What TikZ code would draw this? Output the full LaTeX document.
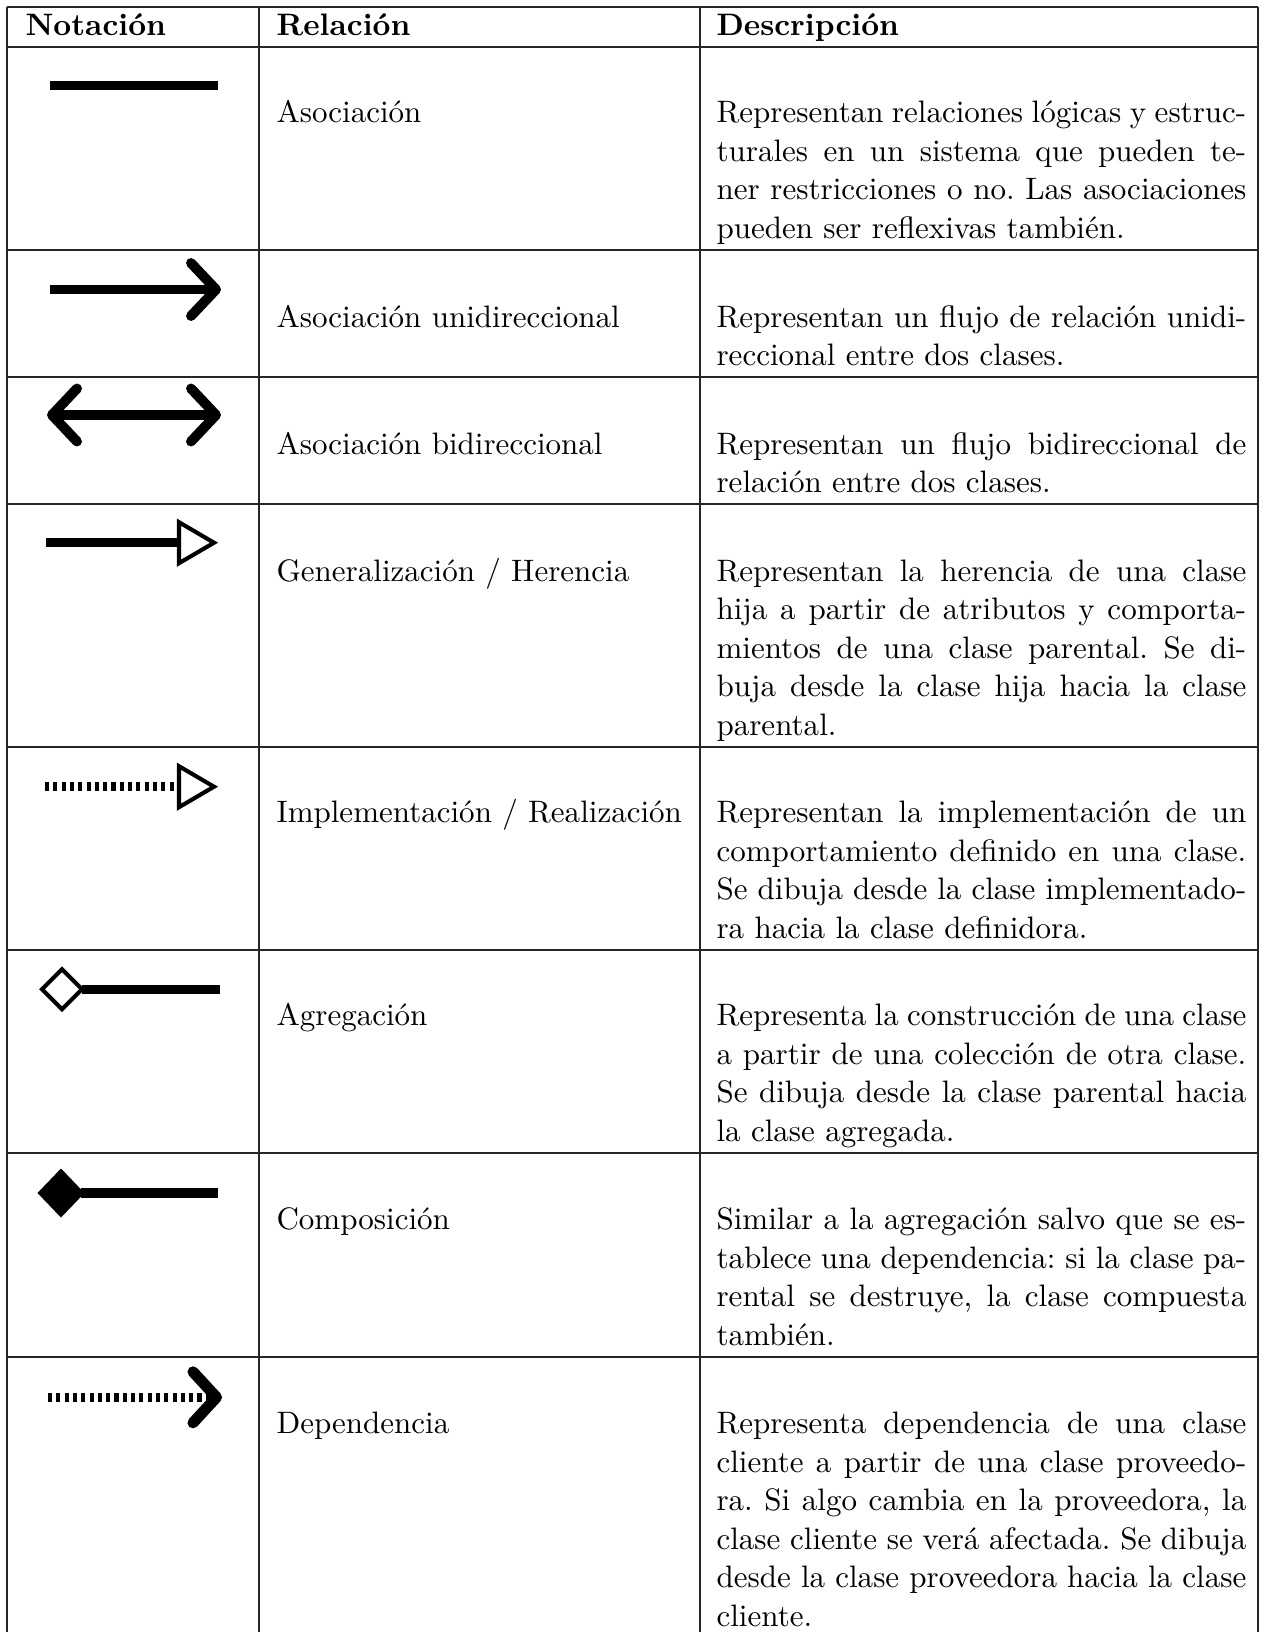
\documentclass[tikz,border=0pt]{standalone}
\usepackage{tikz}
\newlength{\descw}
\setlength{\descw}{187pt}
\newcommand{\fillline}[1]{\makebox[\linewidth][s]{#1}}
\newcommand{\desc}[1]{\parbox[t]{\descw}{#1}}
\tikzset{
  rule/.style={line width=0.4pt, black!85},
  txt/.style={anchor=base west, inner sep=0pt, font=\fontsize{10.95}{13.6}\selectfont\frenchspacing},
  headtxt/.style={txt, font=\fontsize{10.95}{13.6}\selectfont\bfseries},
  bar/.style={line width=3.2pt, line cap=butt},
  dotbar/.style={line width=3.2pt, line cap=butt, dash pattern=on 1.45pt off 1.48pt},
  vtip/.style={line width=3.5pt, line cap=round, line join=round},
  hollow/.style={line width=1.45pt, line join=miter, fill=white},
  solidtip/.style={fill=black, draw=none},
}
\begin{document}
\begin{tikzpicture}[x=0.353pt, y=-0.353pt]
  \useasboundingbox (0,0) rectangle (1262,1632);

  % table grid
  \foreach \yy in {7,47,250,377,504,747,950,1153,1357}
    \draw[rule] (7,\yy) -- (1258,\yy);
  \foreach \xx in {7,259,700,1258}
    \draw[rule] (\xx,7) -- (\xx,1632);

  % header
  \node[headtxt] (hnot) at (25,35) {Notación};
  \node[headtxt] (hrel) at (276,35) {Relación};
  \node[headtxt] (hdes) at (716,35) {Descripción};

  % relation names
  \node[txt] (r1) at (276,122.6) {Asociación};
  \node[txt] (r2) at (276,327) {Asociación unidireccional};
  \node[txt] (r3) at (276,454) {Asociación bidireccional};
  \node[txt] (r4) at (276,581) {Generalización / Herencia};
  \node[txt] (r5) at (276,822.6) {Implementación / Realización};
  \node[txt] (r6) at (276,1025.6) {Agregación};
  \node[txt] (r7) at (276,1229.6) {Composición};
  \node[txt] (r8) at (276,1433.5) {Dependencia};

  % descriptions
  \node[txt] (d1) at (716,122.6) {\desc{%
    \fillline{Representan relaciones lógicas y estruc-}\\
    \fillline{turales en un sistema que pueden te-}\\
    \fillline{ner restricciones o no. Las asociaciones}\\
    pueden ser reflexivas también.}};
  \node[txt] (d2) at (716,327) {\desc{%
    \fillline{Representan un flujo de relación unidi-}\\
    reccional entre dos clases.}};
  \node[txt] (d3) at (716,454) {\desc{%
    \fillline{Representan un flujo bidireccional de}\\
    relación entre dos clases.}};
  \node[txt] (d4) at (716,581) {\desc{%
    \fillline{Representan la herencia de una clase}\\
    \fillline{hija a partir de atributos y comporta-}\\
    \fillline{mientos de una clase parental. Se di-}\\
    \fillline{buja desde la clase hija hacia la clase}\\
    parental.}};
  \node[txt] (d5) at (716,822.6) {\desc{%
    \fillline{Representan la implementación de un}\\
    \fillline{comportamiento definido en una clase.}\\
    \fillline{Se dibuja desde la clase implementado-}\\
    ra hacia la clase definidora.}};
  \node[txt] (d6) at (716,1025.6) {\desc{%
    \fillline{Representa la construcción de una clase}\\
    \fillline{a partir de una colección de otra clase.}\\
    \fillline{Se dibuja desde la clase parental hacia}\\
    la clase agregada.}};
  \node[txt] (d7) at (716,1229.6) {\desc{%
    \fillline{Similar a la agregación salvo que se es-}\\
    \fillline{tablece una dependencia: si la clase pa-}\\
    \fillline{rental se destruye, la clase compuesta}\\
    también.}};
  \node[txt] (d8) at (716,1433.5) {\desc{%
    \fillline{Representa dependencia de una clase}\\
    \fillline{cliente a partir de una clase proveedo-}\\
    \fillline{ra. Si algo cambia en la proveedora, la}\\
    \fillline{clase cliente se verá afectada. Se dibuja}\\
    \fillline{desde la clase proveedora hacia la clase}\\
    cliente.}};

  % --- notation symbols ---
  % association
  \coordinate (a1s) at (50,85.5);
  \coordinate (a1e) at (218,85.5);
  \draw[bar] (a1s) -- (a1e);

  % unidirectional association
  \coordinate (a2s) at (50,289.5);
  \coordinate (a2t) at (216,289.5);
  \draw[bar] (a2s) -- ([shift={(-2,0)}]a2t);
  \draw[vtip] ([shift={(-25,-26.5)}]a2t) -- (a2t) -- ([shift={(-25,26.5)}]a2t);

  % bidirectional association
  \coordinate (a3l) at (52,415);
  \coordinate (a3r) at (216,415);
  \draw[bar] ([shift={(2,0)}]a3l) -- ([shift={(-2,0)}]a3r);
  \draw[vtip] ([shift={(25,-26.5)}]a3l) -- (a3l) -- ([shift={(25,26.5)}]a3l);
  \draw[vtip] ([shift={(-25,-26.5)}]a3r) -- (a3r) -- ([shift={(-25,26.5)}]a3r);

  % generalization
  \coordinate (a4s) at (46,542.7);
  \coordinate (a4b) at (179,542.7);
  \draw[bar] (a4s) -- (a4b);
  \draw[hollow] ([shift={(0,-20.5)}]a4b) -- ([shift={(35,0)}]a4b) -- ([shift={(0,20.5)}]a4b) -- cycle;

  % implementation
  \coordinate (a5s) at (45,786.7);
  \coordinate (a5b) at (179,786.7);
  \draw[dotbar] (a5s) -- (a5b);
  \draw[hollow] ([shift={(0,-20.5)}]a5b) -- ([shift={(35,0)}]a5b) -- ([shift={(0,20.5)}]a5b) -- cycle;

  % aggregation
  \coordinate (a6c) at (62,989.3);
  \coordinate (a6e) at (220,989.3);
  \draw[bar] ([shift={(20,0)}]a6c) -- (a6e);
  \draw[hollow] ([shift={(-20,0)}]a6c) -- ([shift={(0,-20)}]a6c) -- ([shift={(20,0)}]a6c) -- ([shift={(0,20)}]a6c) -- cycle;

  % composition
  \coordinate (a7c) at (61,1193);
  \coordinate (a7e) at (218,1193);
  \draw[bar] ([shift={(20,0)}]a7c) -- (a7e);
  \fill[solidtip] ([shift={(-23.5,0)}]a7c) -- ([shift={(0,-24.5)}]a7c) -- ([shift={(23.5,0)}]a7c) -- ([shift={(0,24.5)}]a7c) -- cycle;

  % dependency
  \coordinate (a8s) at (48,1397.3);
  \coordinate (a8t) at (216.5,1397.3);
  \draw[dotbar] (a8s) -- ([shift={(-6,0)}]a8t);
  \draw[vtip, line width=3.9pt] ([shift={(-23.5,-25.5)}]a8t) -- (a8t) -- ([shift={(-23.5,25.5)}]a8t);
\end{tikzpicture}
\end{document}
